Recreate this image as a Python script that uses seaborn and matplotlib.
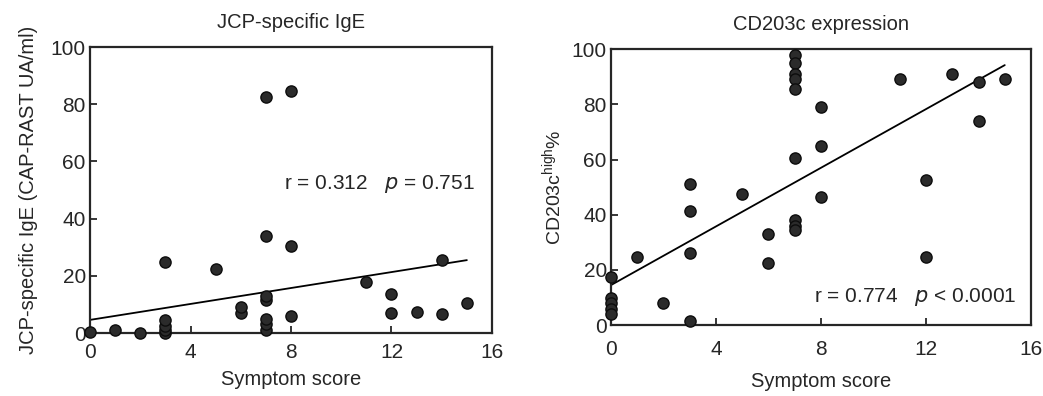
import numpy as np
import pandas as pd
import seaborn as sns
import matplotlib.pyplot as plt

# JCP-specific IgE panel (symptom score vs CAP-RAST UA/ml)
ige_score = [0, 1, 2, 3, 3, 3, 3, 3, 5, 6, 6, 7, 7, 7, 7, 7, 7, 7, 8, 8, 8, 11, 12, 12, 13, 14, 14, 15]
ige_value = [0.5, 1, 0, 0, 1, 2.5, 4.5, 25, 22.5, 7, 9, 82.5, 34, 11.5, 13, 1, 3, 5, 84.5, 30.5, 6, 18, 13.5, 7, 7.5, 25.5, 6.5, 10.5]
ige_fit_x = [0, 15]
ige_fit_y = [4.6, 25.5]

# CD203c expression panel (symptom score vs CD203c high %)
cd_score = [0, 0, 0, 0, 0, 1, 2, 3, 3, 3, 3, 5, 6, 6, 7, 7, 7, 7, 7, 7, 7, 7, 7, 8, 8, 8, 11, 12, 12, 13, 14, 14, 15]
cd_value = [17.5, 10, 8, 6, 4, 24.5, 8, 51, 41.5, 26, 1.5, 47.5, 33, 22.5, 98, 95, 91, 89, 85.5, 60.5, 38, 36, 34.5, 79, 65, 46.5, 89, 52.5, 24.5, 91, 88, 74, 89]
cd_fit_x = [0, 15]
cd_fit_y = [14.5, 94.2]

sns.set_style("ticks")
plt.rcParams['font.family'] = ['Liberation Sans', 'DejaVu Sans']
plt.rcParams['axes.linewidth'] = 1.6
plt.rcParams['xtick.direction'] = 'in'
plt.rcParams['ytick.direction'] = 'in'

fig = plt.figure(figsize=(10.43, 3.96), dpi=100)
ax1 = fig.add_axes([0.0863, 0.159, 0.3854, 0.722])
ax2 = fig.add_axes([0.5858, 0.179, 0.4027, 0.697])

ige = pd.DataFrame({"score": ige_score, "value": ige_value})
cd = pd.DataFrame({"score": cd_score, "value": cd_value})

dot = dict(color="#2b2b2b", edgecolor="#0d0d0d", linewidth=1.0, s=65, zorder=3, clip_on=False)

sns.scatterplot(data=ige, x="score", y="value", ax=ax1, **dot)
sns.lineplot(x=ige_fit_x, y=ige_fit_y, ax=ax1, color="black", linewidth=1.3)
sns.scatterplot(data=cd, x="score", y="value", ax=ax2, **dot)
sns.lineplot(x=cd_fit_x, y=cd_fit_y, ax=ax2, color="black", linewidth=1.3)

for ax in (ax1, ax2):
    ax.set_xlim(0, 16)
    ax.set_ylim(0, 100)
    ax.set_xticks([0, 4, 8, 12, 16])
    ax.set_yticks([0, 20, 40, 60, 80, 100])
    ax.tick_params(labelsize=15, length=5, width=1.3)
    ax.tick_params(axis="y", pad=3)
    for s in ax.spines.values():
        s.set_visible(True)

ax1.tick_params(axis="x", pad=7)
ax2.tick_params(axis="x", pad=11)
ax1.set_xlabel("Symptom score", fontsize=14.5, labelpad=6)
ax2.set_xlabel("Symptom score", fontsize=14.5, labelpad=9)

ax1.set_ylabel("JCP-specific IgE (CAP-RAST UA/ml)", fontsize=14.5, labelpad=9)
ax2.set_ylabel("CD203c$^{\\mathregular{high}}$%", fontsize=14, labelpad=5)
ax1.set_title("JCP-specific IgE", fontsize=14.5, pad=14)
ax2.set_title("CD203c expression", fontsize=14.5, pad=14)

ax1.text(15.3, 52, "r = 0.312   $\\it{p}$ = 0.751", fontsize=15, ha="right", va="center")
ax2.text(15.45, 10.3, "r = 0.774   $\\it{p}$ < 0.0001", fontsize=15, ha="right", va="center")

fig.savefig("out.png", dpi=100)
